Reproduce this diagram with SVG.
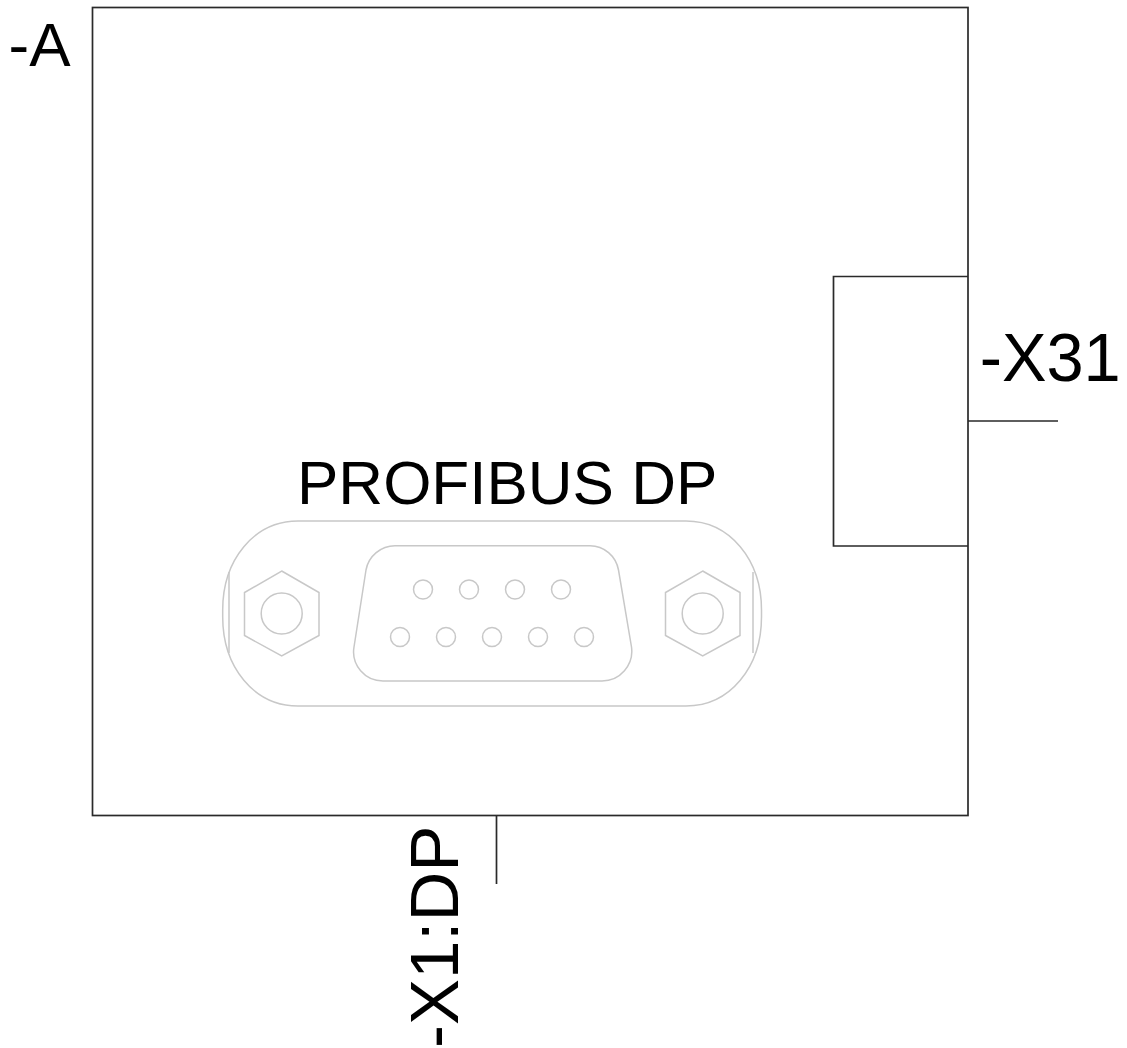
<svg xmlns="http://www.w3.org/2000/svg" width="1127" height="1048" viewBox="0 0 1127 1048">
<style>
.l{fill:none;stroke:#2a2a2a;stroke-width:1.7}
.g{fill:none;stroke:#c8c8c8;stroke-width:1.5}
text{font-family:"Liberation Sans",Arial,sans-serif;font-size:62px;fill:#000}
.b{font-size:69px}
</style>
<rect width="1127" height="1048" fill="#fff"/>
<g id="module"><rect class="l" x="92.500" y="7.500" width="875.500" height="808"/>
<text x="8.500" y="65.700">-A</text></g>
<g id="x31"><path class="l" d="M968 276.500H833.500V546H968"/>
<text class="b" x="979.700" y="380.500" textLength="141" lengthAdjust="spacingAndGlyphs">-X31</text></g>
<g id="profibus-label"><text x="297" y="504">PROFIBUS DP</text></g>
<g id="connector">
<path class="g" d="M298 521H686C730 521 761.500 560 761.500 610V617C761.500 667 730 706 686 706H298C254 706 222.700 667 222.700 617V610C222.700 560 254 521 298 521Z"/>
<path class="g" d="M229 572V653M753 572V653"/>
<path class="g" d="M395 545.700H590C604 545.700 616 556 618.500 570L631.500 647C634 665 620 681 602 681H383C365 681 351 665 354 647L366 570C368.500 556 381 545.700 395 545.700Z"/>
<path class="g" d="M281.700 571L319 592.500V635.500L281.700 656L244.500 635.500V592.500Z"/>
<path class="g" d="M702.700 571L740 592.500V635.500L702.700 656L665.500 635.500V592.500Z"/>
<circle class="g" cx="281.700" cy="613.500" r="20.500"/>
<circle class="g" cx="702.700" cy="613.500" r="20.500"/>
<g id="pins">
<circle class="g" cx="423" cy="589.500" r="9.500"/><circle class="g" cx="469" cy="589.500" r="9.500"/><circle class="g" cx="515" cy="589.500" r="9.500"/><circle class="g" cx="561" cy="589.500" r="9.500"/>
<circle class="g" cx="400" cy="637" r="9.500"/><circle class="g" cx="446" cy="637" r="9.500"/><circle class="g" cx="492" cy="637" r="9.500"/><circle class="g" cx="538" cy="637" r="9.500"/><circle class="g" cx="584" cy="637" r="9.500"/>
</g></g>
<g id="x1dp"><text class="b" transform="translate(458.300 1048) rotate(-90)">-X1:DP</text></g>
<g id="connectors">
<path class="l" d="M968 421H1058M496.500 815.500V884"/>
</g>
</svg>
